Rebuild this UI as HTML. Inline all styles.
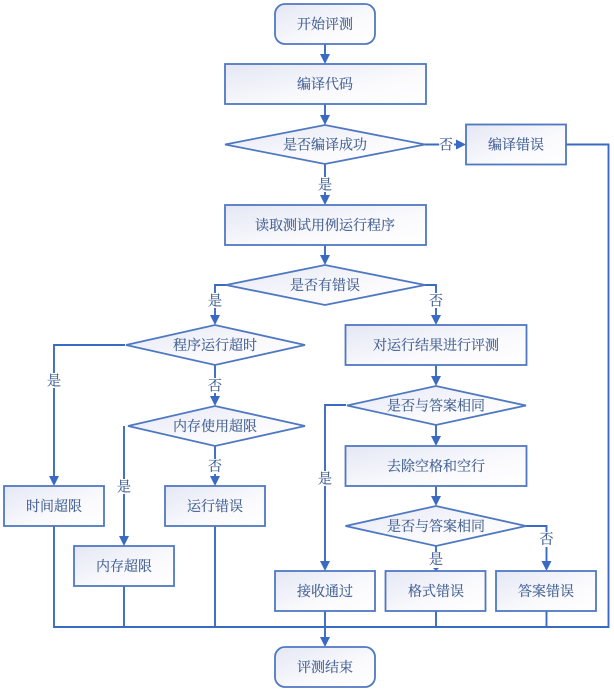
<!DOCTYPE html>
<html><head><meta charset="utf-8">
<style>
html,body{margin:0;padding:0;background:#fff;width:614px;height:692px;overflow:hidden}
svg{display:block;filter:blur(0.35px)}
text{font-family:"Liberation Serif","Noto Serif CJK SC",serif;font-size:14px;fill:#415f92;stroke:#415f92;stroke-width:0.15;text-anchor:middle;dominant-baseline:central}
.s{fill:url(#g);stroke:#4f78c2;stroke-width:1.8}
.l{fill:none;stroke:#3a6bc2;stroke-width:1.9}
.a{fill:#3a6bc2;stroke:none}
.bg{fill:#fff;stroke:none}
</style></head><body>
<svg width="614" height="692" viewBox="0 0 614 692" xmlns="http://www.w3.org/2000/svg">
<defs><linearGradient id="g" x1="0" y1="0" x2="1" y2="1"><stop offset="0" stop-color="#e4e7f4"/><stop offset="0.6" stop-color="#fafafd"/><stop offset="1" stop-color="#fff"/></linearGradient></defs>

<!-- connectors -->
<path class="l" d="M325 44V56M325 104V117M325 164V197M325 245V257M425 144.500H458M566 144.500H608.500V627H54V526M226 285H215V317M215 365V398M125 345H54V478M215 446V478M124 426V538M124 586V627M215 526V627M425 285H436V317M436 365V378M436 425V438M436 486V498M346 405H325V563M436 546V567M436 611V627M526 526H546.500V563M546.500 611V627M325 611V639"/>
<g class="a">
<path d="M320 54H330L325 64Z"/>
<path d="M320 115H330L325 125Z"/>
<path d="M320 195H330L325 205Z"/>
<path d="M320 255H330L325 265Z"/>
<path d="M456 139.500L466 144.500L456 149.500Z"/>
<path d="M210 315H220L215 325Z"/>
<path d="M210 396H220L215 406Z"/>
<path d="M49 476H59L54 486Z"/>
<path d="M210 476H220L215 486Z"/>
<path d="M119 536H129L124 546Z"/>
<path d="M431 315H441L436 325Z"/>
<path d="M431 376H441L436 386Z"/>
<path d="M431 436H441L436 446Z"/>
<path d="M431 496H441L436 506Z"/>
<path d="M320 561H330L325 571Z"/>
<path d="M433 568H439L436 571Z"/>
<path d="M541.500 561H551.500L546.500 571Z"/>
<path d="M320 637H330L325 647Z"/>
</g>

<!-- shapes -->
<rect class="s" x="275" y="4" width="100" height="40" rx="10"/>
<rect class="s" x="225" y="64" width="201" height="40"/>
<path class="s" d="M225 144.500L325 125L425 144.500L325 164Z"/>
<rect class="s" x="466" y="124.500" width="100" height="40"/>
<rect class="s" x="225" y="205" width="201" height="40"/>
<path class="s" d="M226 285L325 265L425 285L325 305Z"/>
<path class="s" d="M126 345L215 325L305 345L215 365Z"/>
<path class="s" d="M128 426L215 406L305 426L215 446Z"/>
<rect class="s" x="345.500" y="325" width="181" height="40"/>
<path class="s" d="M347 405.500L436 386L526 405.500L436 425Z"/>
<rect class="s" x="345.500" y="446" width="181" height="40"/>
<path class="s" d="M345.500 526L436 506L526 526L436 546Z"/>
<rect class="s" x="4" y="486" width="100" height="40"/>
<rect class="s" x="165" y="486" width="100" height="40"/>
<rect class="s" x="74" y="546" width="100" height="40"/>
<rect class="s" x="275" y="571" width="100" height="40"/>
<rect class="s" x="385.500" y="571" width="100" height="40"/>
<rect class="s" x="496" y="571" width="100" height="40"/>
<rect class="s" x="275" y="647" width="100" height="40" rx="10"/>

<!-- label backgrounds -->
<rect class="bg" x="439" y="137" width="15" height="15"/>
<rect class="bg" x="318" y="177" width="15" height="15"/>
<rect class="bg" x="208" y="293" width="15" height="15"/>
<rect class="bg" x="429" y="293" width="15" height="15"/>
<rect class="bg" x="47" y="373" width="15" height="15"/>
<rect class="bg" x="208" y="378" width="15" height="15"/>
<rect class="bg" x="208" y="459" width="15" height="15"/>
<rect class="bg" x="117" y="479" width="15" height="15"/>
<rect class="bg" x="318" y="471" width="15" height="15"/>
<rect class="bg" x="429" y="552" width="15" height="15"/>
<rect class="bg" x="539" y="532" width="15" height="15"/>

<!-- text -->
<g transform="translate(0,1.6)">
<text x="325" y="24">开始评测</text>
<text x="325" y="84">编译代码</text>
<text x="325" y="144.500">是否编译成功</text>
<text x="516" y="144.500">编译错误</text>
<text x="325" y="225">读取测试用例运行程序</text>
<text x="325" y="285">是否有错误</text>
<text x="215" y="345">程序运行超时</text>
<text x="215" y="426">内存使用超限</text>
<text x="436" y="345">对运行结果进行评测</text>
<text x="436" y="405.500">是否与答案相同</text>
<text x="436" y="466">去除空格和空行</text>
<text x="436" y="526">是否与答案相同</text>
<text x="54" y="506">时间超限</text>
<text x="215" y="506">运行错误</text>
<text x="124" y="566">内存超限</text>
<text x="325" y="591">接收通过</text>
<text x="436" y="591">格式错误</text>
<text x="546" y="591">答案错误</text>
<text x="325" y="667">评测结束</text>

<text x="446" y="144.500">否</text>
<text x="325" y="184.500">是</text>
<text x="215" y="300.500">是</text>
<text x="436" y="300.500">否</text>
<text x="54" y="380.500">是</text>
<text x="215" y="385.500">否</text>
<text x="215" y="466">否</text>
<text x="124" y="486.500">是</text>
<text x="325" y="478.500">是</text>
<text x="436" y="559">是</text>
<text x="546.500" y="539">否</text>
</g>
</svg>
</body></html>
